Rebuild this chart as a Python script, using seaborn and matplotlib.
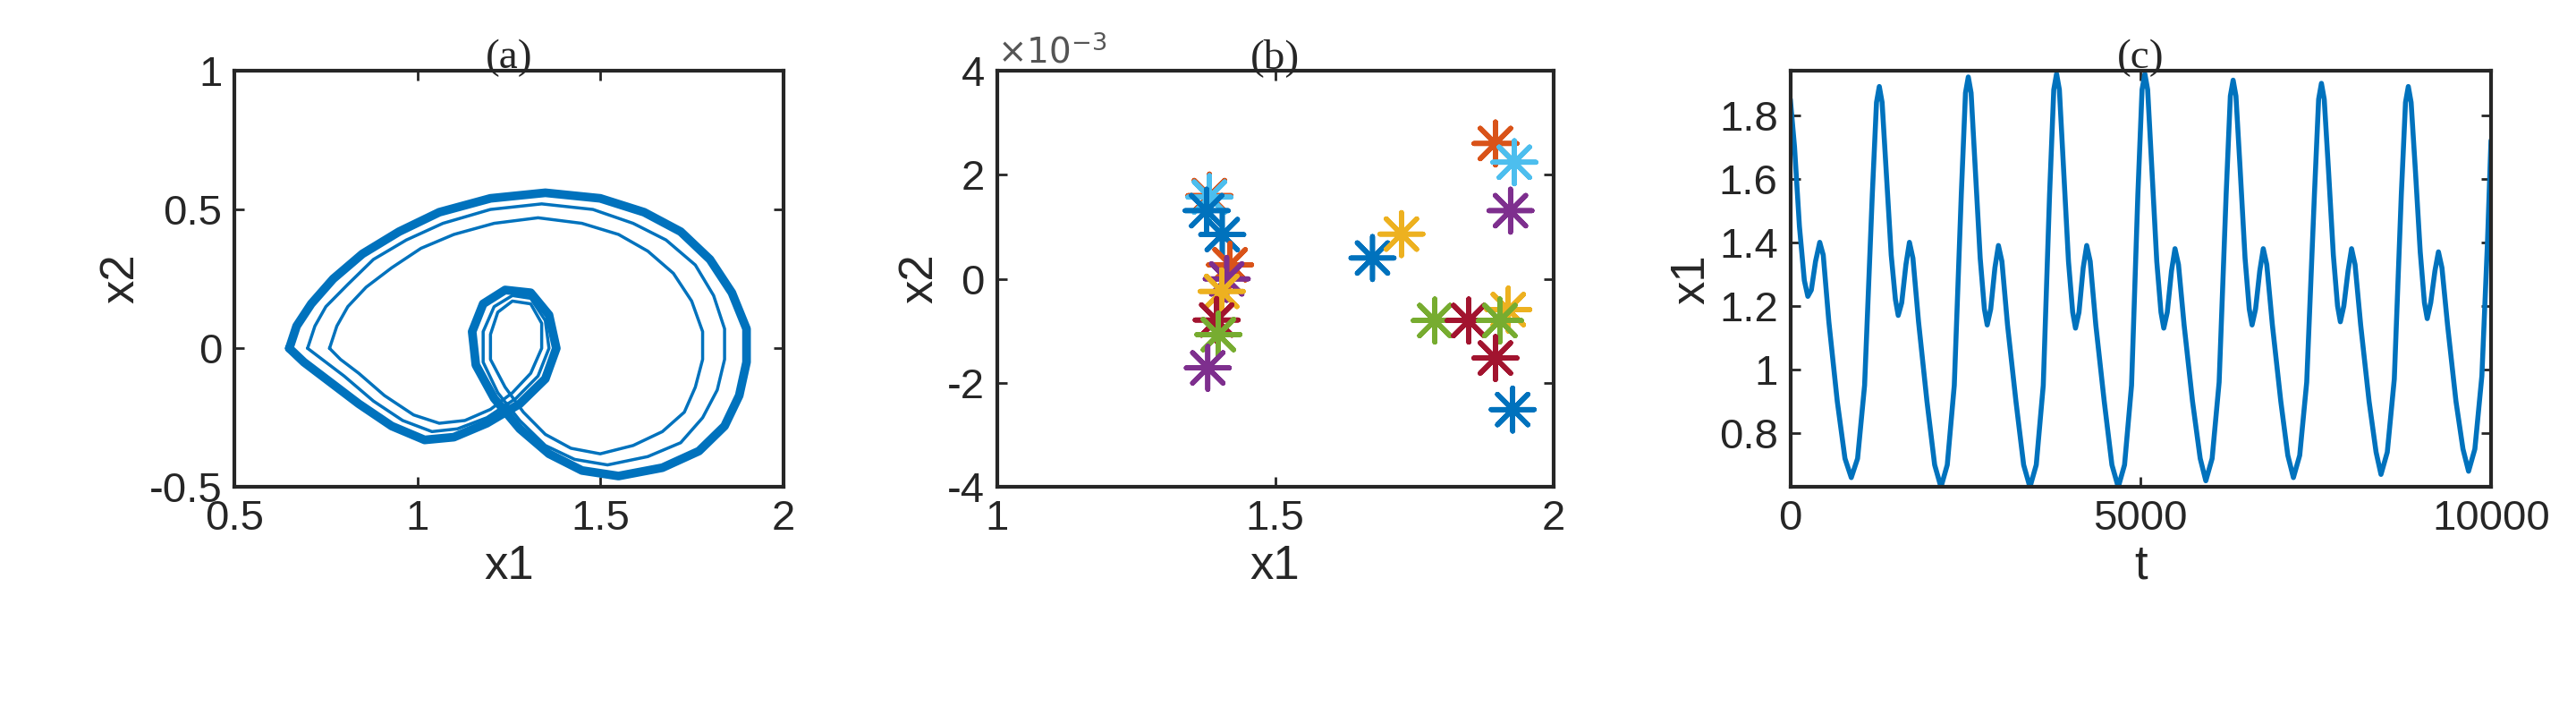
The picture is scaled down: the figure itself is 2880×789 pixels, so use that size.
import numpy as np
import pandas as pd
import matplotlib
matplotlib.use("Agg")
import matplotlib.pyplot as plt
import seaborn as sns

# Panel (a): phase portrait loops (x1, x2)
loop1_x = [0.65,0.67,0.71,0.77,0.85,0.95,1.06,1.20,1.35,1.50,1.62,1.72,1.80,1.86,1.90,1.90,1.88,1.84,1.77,1.67,1.55,1.45,1.36,1.28,1.21,1.16,1.15,1.18,1.24,1.31,1.36,1.38,1.35,1.28,1.19,1.10,1.02,0.93,0.84,0.75,0.69,0.65]
loop1_y = [0.00,0.08,0.16,0.25,0.34,0.42,0.49,0.54,0.56,0.54,0.49,0.42,0.32,0.20,0.07,-0.05,-0.17,-0.28,-0.37,-0.43,-0.46,-0.44,-0.38,-0.29,-0.18,-0.06,0.06,0.16,0.21,0.20,0.12,0.00,-0.11,-0.20,-0.27,-0.32,-0.33,-0.28,-0.20,-0.11,-0.05,0.00]
loop2_x = [0.70,0.72,0.75,0.81,0.88,0.97,1.07,1.20,1.34,1.48,1.59,1.68,1.76,1.81,1.84,1.84,1.82,1.78,1.72,1.63,1.52,1.43,1.35,1.28,1.22,1.18,1.18,1.21,1.26,1.31,1.35,1.36,1.33,1.27,1.19,1.11,1.04,0.96,0.88,0.80,0.74,0.70]
loop2_y = [0.00,0.08,0.15,0.23,0.32,0.39,0.45,0.50,0.52,0.50,0.45,0.39,0.30,0.19,0.07,-0.04,-0.15,-0.25,-0.34,-0.39,-0.42,-0.40,-0.35,-0.26,-0.16,-0.05,0.06,0.15,0.19,0.18,0.10,0.00,-0.10,-0.18,-0.25,-0.29,-0.30,-0.26,-0.19,-0.10,-0.04,0.00]
loop3_x = [0.76,0.78,0.81,0.86,0.93,1.01,1.10,1.21,1.33,1.45,1.55,1.63,1.70,1.75,1.78,1.78,1.76,1.73,1.67,1.59,1.50,1.42,1.35,1.29,1.24,1.20,1.20,1.22,1.26,1.31,1.34,1.34,1.31,1.26,1.20,1.13,1.06,0.99,0.91,0.84,0.79,0.76]
loop3_y = [0.00,0.08,0.15,0.22,0.29,0.36,0.41,0.45,0.47,0.45,0.41,0.35,0.27,0.17,0.06,-0.04,-0.14,-0.23,-0.30,-0.35,-0.38,-0.36,-0.31,-0.23,-0.14,-0.04,0.05,0.13,0.17,0.16,0.09,0.00,-0.09,-0.16,-0.22,-0.26,-0.27,-0.24,-0.17,-0.09,-0.04,0.00]

# Panel (b): section points (x1, x2*1e3, colour index)
sec_x = [1.382,1.382,1.377,1.405,1.419,1.413,1.404,1.395,1.398,1.379,1.675,1.727,1.896,1.930,1.923,1.919,1.787,1.848,1.904,1.896,1.927]
sec_y = [1.60,1.57,1.31,0.85,0.27,0.00,-0.24,-0.79,-1.07,-1.71,0.40,0.86,2.60,2.24,1.31,-0.59,-0.80,-0.80,-0.80,-1.52,-2.51]
sec_c = ["orange","cyan","blue","blue","orange","purple","yellow","red","green","purple","blue","yellow","orange","cyan","purple","yellow","green","red","green","red","blue"]
palette = {"blue":"#0072BD","orange":"#D95319","yellow":"#EDB120","purple":"#7E2F8E",
           "green":"#77AC30","cyan":"#4DBEEE","red":"#A2142F"}

# Panel (c): time series x1(t)
t_vals = [0,60,130,200,250,300,360,420,470,550,670,780,870,960,1060,
          1170,1230,1270,1310,1370,1440,1500,1540,1590,1650,1700,1750,1830,1950,2060,2150,2240,2340,
          2440,2500,2540,2580,2640,2710,2770,2810,2860,2920,2970,3020,3100,3220,3330,3420,3510,3610,
          3700,3760,3800,3840,3900,3970,4030,4070,4120,4180,4230,4280,4360,4480,4590,4680,4770,4870,
          4960,5020,5060,5100,5160,5230,5290,5330,5380,5440,5490,5540,5620,5740,5850,5930,6020,6120,
          6220,6280,6320,6360,6420,6490,6550,6590,6640,6700,6750,6800,6880,7000,7100,7180,7270,7370,
          7480,7540,7580,7620,7680,7750,7810,7850,7900,7960,8010,8060,8140,8260,8360,8430,8520,8620,
          8720,8780,8820,8860,8920,8990,9050,9090,9140,9200,9250,9300,9380,9500,9600,9680,9770,9870,9950,10000]
x1_vals = [1.85,1.70,1.45,1.28,1.23,1.25,1.34,1.40,1.36,1.15,0.90,0.72,0.66,0.72,0.95,
           1.55,1.84,1.89,1.84,1.62,1.36,1.22,1.17,1.21,1.33,1.40,1.35,1.15,0.90,0.70,0.63,0.70,0.95,
           1.55,1.87,1.92,1.87,1.63,1.35,1.19,1.14,1.19,1.32,1.39,1.34,1.14,0.90,0.70,0.63,0.70,0.95,
           1.55,1.88,1.93,1.88,1.63,1.34,1.18,1.13,1.18,1.32,1.39,1.34,1.14,0.90,0.70,0.63,0.70,0.95,
           1.55,1.88,1.93,1.88,1.63,1.34,1.18,1.13,1.18,1.31,1.38,1.33,1.14,0.90,0.72,0.65,0.72,0.96,
           1.55,1.86,1.91,1.86,1.63,1.35,1.19,1.14,1.19,1.31,1.38,1.33,1.14,0.90,0.73,0.66,0.73,0.96,
           1.55,1.85,1.90,1.85,1.63,1.36,1.20,1.15,1.20,1.31,1.38,1.33,1.14,0.90,0.74,0.67,0.74,0.97,
           1.55,1.84,1.89,1.84,1.63,1.37,1.21,1.16,1.21,1.31,1.37,1.32,1.14,0.90,0.75,0.68,0.75,0.98,1.40,1.72]

sns.set_theme(style="white")
plt.rcParams['font.family'] = ['Liberation Sans', 'DejaVu Sans']
LINE = "#0072BD"
fig = plt.figure(figsize=(28.8, 7.89), dpi=100)
axA = fig.add_axes([0.091, 0.31, 0.213, 0.59])
axB = fig.add_axes([0.387, 0.31, 0.216, 0.59])
axC = fig.add_axes([0.695, 0.31, 0.272, 0.59])

for lx, ly, lw in [(loop1_x, loop1_y, 7), (loop2_x, loop2_y, 2.5), (loop3_x, loop3_y, 2.5)]:
    d = pd.DataFrame({"x1": lx, "x2": ly})
    sns.lineplot(data=d, x="x1", y="x2", sort=False, estimator=None, ax=axA, color=LINE, lw=lw)
axA.set_xlim(0.5, 2); axA.set_ylim(-0.5, 1)
axA.set_xticks([0.5,1,1.5,2]); axA.set_xticklabels(["0.5","1","1.5","2"])
axA.set_yticks([-0.5,0,0.5,1]); axA.set_yticklabels(["-0.5","0","0.5","1"])

dB = pd.DataFrame({"x1": sec_x, "x2": sec_y, "c": sec_c})
sns.scatterplot(data=dB, x="x1", y="x2", hue="c", palette=palette, marker=(8, 2, 0),
                s=1200, linewidth=4, ax=axB, legend=False)
axB.set_xlim(1, 2); axB.set_ylim(-4, 4)
axB.set_xticks([1,1.5,2]); axB.set_xticklabels(["1","1.5","2"])
axB.set_yticks([-4,-2,0,2,4]); axB.set_yticklabels(["-4","-2","0","2","4"])
axB.text(0.0, 1.0, r"$\times10^{-3}$", transform=axB.transAxes, fontsize=28, color="#555555",
         ha="left", va="bottom")

dC = pd.DataFrame({"t": t_vals, "x1": x1_vals})
sns.lineplot(data=dC, x="t", y="x1", ax=axC, color=LINE, lw=4)
axC.set_xlim(0, 10000); axC.set_ylim(0.63, 1.94)
axC.set_xticks([0,5000,10000]); axC.set_xticklabels(["0","5000","10000"])
axC.set_yticks([0.8,1,1.2,1.4,1.6,1.8]); axC.set_yticklabels(["0.8","1","1.2","1.4","1.6","1.8"])

for ax, title, xl, yl in [(axA,"(a)","x1","x2"),(axB,"(b)","x1","x2"),(axC,"(c)","t","x1")]:
    ax.set_title(title, fontsize=34, family=["Liberation Serif"], pad=2)
    ax.set_xlabel(xl, fontsize=38, color="#262626")
    ax.set_ylabel(yl, fontsize=38, color="#262626")
    ax.tick_params(direction="in", length=8, width=2, labelsize=34, colors="#262626",
                   top=True, right=True, bottom=True, left=True, pad=10)
    for sp in ax.spines.values():
        sp.set_linewidth(3); sp.set_color("#262626")

fig.savefig("out.png", dpi=100)
